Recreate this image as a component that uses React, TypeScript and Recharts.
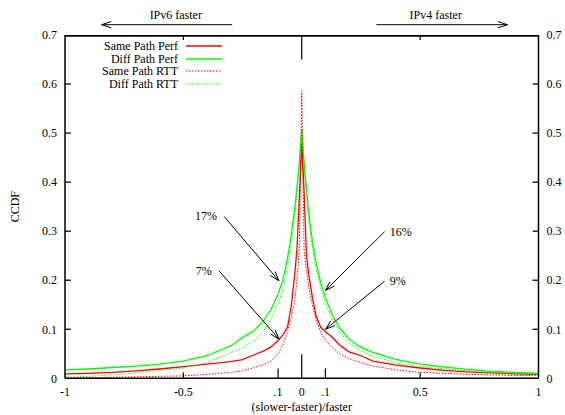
import React from 'react';
import { LineChart, Line, XAxis, YAxis, ReferenceLine, ReferenceDot, ReferenceArea, Legend } from 'recharts';

// sample positions on the x axis, (slower-faster)/faster
const xGrid = [
  -1, -0.9, -0.8, -0.7, -0.6, -0.5, -0.4, -0.3, -0.25, -0.2, -0.16, -0.13, -0.1, -0.08, -0.06, -0.045, -0.03, -0.02, -0.01,
  0, 0.01, 0.02, 0.03, 0.045, 0.06, 0.08, 0.1, 0.13, 0.16, 0.2, 0.25, 0.3, 0.4, 0.5, 0.6, 0.7, 0.8, 0.9, 1,
];

const samePathPerf = [
  0.009, 0.01, 0.012, 0.015, 0.019, 0.024, 0.029, 0.034, 0.038, 0.048, 0.056, 0.064, 0.077, 0.088, 0.105, 0.145, 0.21, 0.265, 0.37,
  0.48, 0.38, 0.25, 0.21, 0.165, 0.128, 0.104, 0.095, 0.083, 0.068, 0.054, 0.046, 0.035, 0.027, 0.021, 0.016, 0.013, 0.011, 0.009, 0.008,
];

const diffPathPerf = [
  0.017, 0.019, 0.022, 0.025, 0.029, 0.035, 0.046, 0.066, 0.083, 0.098, 0.118, 0.14, 0.172, 0.2, 0.245, 0.29, 0.345, 0.39, 0.44,
  0.508, 0.44, 0.385, 0.335, 0.28, 0.238, 0.195, 0.165, 0.128, 0.103, 0.08, 0.063, 0.053, 0.038, 0.029, 0.023, 0.018, 0.014, 0.012, 0.01,
];

const samePathRtt = [
  0, 0.001, 0.002, 0.003, 0.004, 0.005, 0.008, 0.012, 0.015, 0.022, 0.028, 0.035, 0.05, 0.068, 0.095, 0.122, 0.158, 0.2, 0.265,
  0.586, 0.26, 0.22, 0.185, 0.15, 0.12, 0.094, 0.078, 0.062, 0.05, 0.04, 0.032, 0.025, 0.017, 0.012, 0.01, 0.008, 0.007, 0.006, 0.006,
];

const diffPathRtt = [
  0.002, 0.004, 0.007, 0.011, 0.016, 0.021, 0.032, 0.052, 0.062, 0.078, 0.097, 0.12, 0.152, 0.18, 0.225, 0.27, 0.33, 0.38, 0.44,
  0.505, 0.43, 0.37, 0.32, 0.265, 0.225, 0.185, 0.152, 0.118, 0.095, 0.072, 0.056, 0.045, 0.031, 0.024, 0.019, 0.015, 0.012, 0.01, 0.009,
];

const xTicks = [-1, -0.5, -0.1, 0, 0.1, 0.5, 1];
const xTickLabels = ['-1', '-0.5', '.1', '0', '.1', '0.5', '1'];
const yTicks = [0, 0.1, 0.2, 0.3, 0.4, 0.5, 0.6, 0.7];

const SERIES = [
  { key: 'samePerf', name: 'Same Path Perf', color: '#ff0000', width: 1.3, dash: undefined },
  { key: 'diffPerf', name: 'Diff Path Perf', color: '#00ff00', width: 1.3, dash: undefined },
  { key: 'sameRtt', name: 'Same Path RTT', color: '#ff0000', width: 1, dash: '1.5 1.5' },
  { key: 'diffRtt', name: 'Diff Path RTT', color: '#00ff00', width: 1, dash: '1.5 1.5' },
];

const rows = xGrid.map((x, i) => ({
  x,
  samePerf: samePathPerf[i],
  diffPerf: diffPathPerf[i],
  sameRtt: samePathRtt[i],
  diffRtt: diffPathRtt[i],
}));

// annotations, in data units
const notes = [
  { text: '17%', x: -0.404, y: 0.33 },
  { text: '7%', x: -0.414, y: 0.218 },
  { text: '16%', x: 0.418, y: 0.298 },
  { text: '9%', x: 0.405, y: 0.198 },
  { text: 'IPv6 faster', x: -0.532, y: 0.74 },
  { text: 'IPv4 faster', x: 0.566, y: 0.74 },
];

const arrows = [
  { from: [-0.328, 0.33], to: [-0.097, 0.199] },
  { from: [-0.349, 0.219], to: [-0.096, 0.08] },
  { from: [0.35, 0.299], to: [0.1, 0.179] },
  { from: [0.35, 0.198], to: [0.1, 0.1] },
  { from: [-0.294, 0.721], to: [-0.845, 0.721] },
  { from: [0.315, 0.721], to: [0.869, 0.721] },
];

// inward x ticks, the way gnuplot draws them
const xTickMarks = [
  { from: [-0.5, 0], to: [-0.5, 0.012] },
  { from: [0.5, 0], to: [0.5, 0.012] },
  { from: [-0.1, 0], to: [-0.1, 0.02] },
  { from: [0.1, 0], to: [0.1, 0.02] },
  { from: [0, 0], to: [0, 0.049] },
  { from: [-0.5, 0.7], to: [-0.5, 0.69] },
  { from: [0.5, 0.7], to: [0.5, 0.69] },
  { from: [0, 0.7], to: [0, 0.65] },
];

// top border and inward y ticks as thin filled strips
const strips = [
  { x1: -1, x2: 1, y1: 0.6965, y2: 0.7 },
  ...yTicks.slice(1, 7).flatMap((t) => [
    { x1: -1, x2: -0.975, y1: t - 0.0013, y2: t + 0.0013 },
    { x1: 0.975, x2: 1, y1: t - 0.0013, y2: t + 0.0013 },
  ]),
];

const arrowShape = (p: any) => {
  const { x1, y1, x2, y2 } = p;
  const a = Math.atan2(y2 - y1, x2 - x1);
  const len = 10;
  const spread = 0.32;
  const h1 = `${x2 - len * Math.cos(a - spread)},${y2 - len * Math.sin(a - spread)}`;
  const h2 = `${x2 - len * Math.cos(a + spread)},${y2 - len * Math.sin(a + spread)}`;
  return (
    <g>
      <line x1={x1} y1={y1} x2={x2} y2={y2} stroke="#000" strokeWidth={1} />
      <polyline points={`${h1} ${x2},${y2} ${h2}`} fill="none" stroke="#000" strokeWidth={1} />
    </g>
  );
};

const renderLegend = () => (
  <div style={{ fontSize: 12, color: '#000' }}>
    {SERIES.map((s) => (
      <div key={s.key} style={{ display: 'flex', alignItems: 'center', height: 12.5 }}>
        <span style={{ width: 118, textAlign: 'right', paddingRight: 8, lineHeight: '12.5px' }}>{s.name}</span>
        <svg width={36} height={4}>
          <line x1={0} y1={2} x2={36} y2={2} stroke={s.color} strokeWidth={s.width} strokeDasharray={s.dash} />
        </svg>
      </div>
    ))}
  </div>
);

const yFmt = (v: number) => (v === 0 ? '0' : v.toFixed(1));

export default function App() {
  return (
    <div style={{ position: 'absolute', left: 0, top: 0, width: 565, height: 415, fontFamily: '"Liberation Serif", serif', background: '#fff' }}>
      <LineChart width={565} height={415} data={rows} margin={{ top: 35, right: 0, left: 0, bottom: 0 }}>
        <XAxis
          dataKey="x"
          type="number"
          domain={[-1, 1]}
          ticks={xTicks}
          interval={0}
          allowDataOverflow
          tickFormatter={(v) => xTickLabels[xTicks.indexOf(v)]}
          tick={{ fill: '#000', fontSize: 12 }}
          tickLine={false}
          tickSize={6}
          tickMargin={3}
          height={36.7}
          axisLine={{ stroke: '#000', strokeWidth: 1.5 }}
          label={{ value: '(slower-faster)/faster', position: 'insideBottom', offset: 4, fill: '#000', fontSize: 12 }}
        />
        <YAxis
          type="number"
          domain={[0, 0.7]}
          ticks={yTicks}
          interval={0}
          allowDataOverflow
          width={65}
          tickFormatter={yFmt}
          tick={{ fill: '#000', fontSize: 12 }}
          tickLine={false}
          axisLine={{ stroke: '#000', strokeWidth: 1.5 }}
          label={{ value: 'CCDF', angle: -90, position: 'insideLeft', offset: 15, fill: '#000', fontSize: 12, style: { textAnchor: 'middle' } }}
        />
        <YAxis
          yAxisId="right"
          orientation="right"
          type="number"
          domain={[0, 0.7]}
          ticks={yTicks}
          interval={0}
          allowDataOverflow
          width={26.5}
          tickFormatter={yFmt}
          tick={{ fill: '#000', fontSize: 12, textAnchor: 'start' }}
          tickLine={false}
          axisLine={{ stroke: '#000', strokeWidth: 1.5 }}
        />
        <Legend
          content={renderLegend}
          layout="vertical"
          align="center"
          verticalAlign="middle"
          wrapperStyle={{ top: 40, left: 60, width: 170 }}
        />
        {strips.map((s, i) => (
          <ReferenceArea
            key={`strip-${i}`}
            x1={s.x1}
            x2={s.x2}
            y1={s.y1}
            y2={s.y2}
            fill="#000"
            fillOpacity={1}
            stroke="none"
            ifOverflow="visible"
          />
        ))}
        {xTickMarks.map((t, i) => (
          <ReferenceLine
            key={`tick-${i}`}
            segment={[{ x: t.from[0], y: t.from[1] }, { x: t.to[0], y: t.to[1] }]}
            stroke="#000"
            strokeWidth={1.2}
            ifOverflow="visible"
          />
        ))}
        {SERIES.map((s) => (
          <Line
            key={s.key}
            type="linear"
            dataKey={s.key}
            name={s.name}
            stroke={s.color}
            strokeWidth={s.width}
            strokeDasharray={s.dash}
            dot={false}
            activeDot={false}
            isAnimationActive={false}
          />
        ))}
        {arrows.map((a, i) => (
          <ReferenceLine
            key={`arrow-${i}`}
            segment={[{ x: a.from[0], y: a.from[1] }, { x: a.to[0], y: a.to[1] }]}
            ifOverflow="visible"
            shape={arrowShape}
          />
        ))}
        {notes.map((n) => (
          <ReferenceDot
            key={n.text}
            x={n.x}
            y={n.y}
            r={0}
            ifOverflow="visible"
            shape={(p: any) => (
              <text x={p.cx} y={p.cy} textAnchor="middle" dominantBaseline="central" fontSize={12} fill="#000">
                {n.text}
              </text>
            )}
          />
        ))}
      </LineChart>
    </div>
  );
}
